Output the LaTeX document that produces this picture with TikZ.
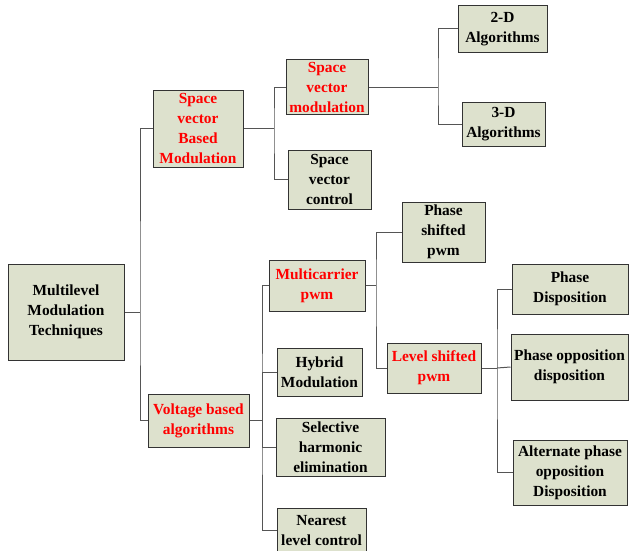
\documentclass[tikz,border=0pt]{standalone}
\usepackage{fontspec}
\setmainfont{Liberation Serif}
\usetikzlibrary{positioning}
\definecolor{boxfill}{RGB}{221,225,205}
\definecolor{linkgray}{RGB}{85,85,85}

\begin{document}
\begin{tikzpicture}[x=1pt, y=-1pt,
    box/.style={draw=black!80, line width=1pt, fill=boxfill, align=center,
      inner sep=0pt, font=\fontsize{15.4}{20}\selectfont\bfseries},
    hot/.style={box, text=red},
    link/.style={draw=linkgray, line width=1pt}]
  \useasboundingbox (0,0) rectangle (629,551);
  % root
  \node[box, minimum width=116pt, minimum height=96pt] (root) at (66,312)
    {Multilevel\\Modulation\\Techniques};
  % first level
  \node[hot, minimum width=90pt, minimum height=77pt] (svbm) at (198,128.5)
    {Space\\vector\\Based\\Modulation};
  \node[hot, minimum width=101pt, minimum height=53pt] (vba) at (198.5,420.5)
    {Voltage based\\algorithms};
  % space vector branch
  \node[hot, minimum width=82pt, minimum height=54pt] (svm) at (327,87)
    {Space\\vector\\modulation};
  \node[box, minimum width=83pt, minimum height=59pt] (svc) at (329.5,179.5)
    {Space\\vector\\control};
  \node[box, minimum width=89pt, minimum height=47pt] (alg2d) at (502.5,29)
    {2-D\\Algorithms};
  \node[box, minimum width=83pt, minimum height=44pt] (alg3d) at (503.5,124)
    {3-D\\Algorithms};
  % voltage based branch
  \node[hot, minimum width=96pt, minimum height=51pt] (mcp) at (317,285.5)
    {Multicarrier\\pwm};
  \node[box, minimum width=85pt, minimum height=48pt] (hyb) at (319.5,372)
    {Hybrid\\Modulation};
  \node[box, minimum width=109pt, minimum height=58pt] (she) at (330.5,447)
    {Selective\\harmonic\\elimination};
  \node[box, minimum width=89pt, minimum height=45pt] (nlc) at (321.5,530.5)
    {Nearest\\level control};
  % multicarrier branch
  \node[box, minimum width=83pt, minimum height=60pt] (psp) at (443.5,232)
    {Phase\\shifted\\pwm};
  \node[hot, minimum width=94pt, minimum height=50pt] (lsp) at (434,368)
    {Level shifted\\pwm};
  \node[box, minimum width=116pt, minimum height=50pt] (pd) at (570,289)
    {Phase\\Disposition};
  \node[box, minimum width=117pt, minimum height=66pt] (pod) at (569.5,367)
    {Phase opposition\\disposition};
  \node[box, minimum width=114pt, minimum height=65pt] (apod) at (570,472.5)
    {Alternate phase\\opposition\\Disposition};
  % bus points
  \coordinate (b0) at (140,312);
  \coordinate (b1) at (274,128.5);
  \coordinate (b2) at (438,87);
  \coordinate (b3) at (262,420.5);
  \coordinate (b4) at (376,285.5);
  \coordinate (b5) at (497,368);
  % connectors
  \draw[link] (root.east) -- (b0);
  \draw[link] (svbm.west) -| (b0) |- (vba.west);
  \draw[link] (svbm.east) -- (b1);
  \draw[link] (svm.west) -| (b1) |- (svc.west);
  \draw[link] (svm.east) -- (b2);
  \draw[link] (alg2d.west) -| (b2) |- (alg3d.west);
  \draw[link] (vba.east) -- (b3);
  \draw[link] (mcp.west) -| (b3) |- (nlc.west);
  \draw[link] (hyb.west) -| (b3);
  \draw[link] (she.west) -| (b3);
  \draw[link] (mcp.east) -- (b4);
  \draw[link] (psp.west) -| (b4) |- (lsp.west);
  \draw[link] (lsp.east) -- (b5);
  \draw[link] (pd.west) -| (b5) |- (apod.west);
  \draw[link] (pod.west) -- (b5);
\end{tikzpicture}
\end{document}
